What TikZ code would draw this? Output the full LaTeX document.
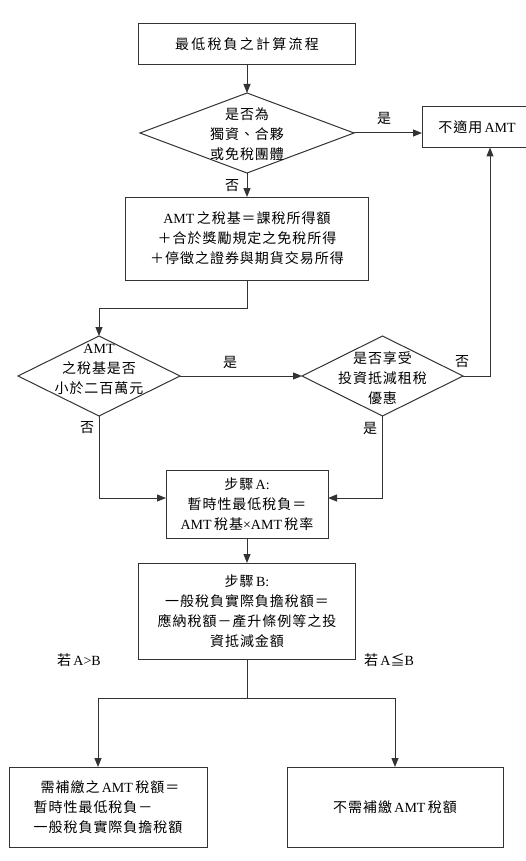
\documentclass[tikz,border=0pt]{standalone}
\usepackage{fontspec}
\setmainfont{Liberation Serif}
\newfontfamily\zh{Noto Sans CJK TC}[LetterSpace=7]
\newfontfamily\zht{Noto Sans CJK TC}[LetterSpace=16]
\usetikzlibrary{shapes.geometric,arrows.meta}
\begin{document}
\begin{tikzpicture}[x=1pt,y=-1pt,
  every node/.style={font=\fontsize{14}{20}\selectfont},
  box/.style={draw=black!80, line width=1pt, align=center, inner sep=0pt, outer sep=0pt},
  dia/.style={draw=black!80, line width=1pt, diamond, inner sep=0pt, outer sep=0pt},
  txt/.style={align=center, inner sep=0pt},
  lbl/.style={inner sep=0pt},
  conn/.style={draw=black!80, line width=1pt},
  arr/.style={conn, -{Triangle[width=7pt,length=9pt]}}]
\fill[white] (0,0) rectangle (525,861);
\useasboundingbox (0,0) rectangle (525,861);

\node[box, minimum width=217pt, minimum height=41pt] (title) at (247,44.5) {\zht 最低稅負之計算流程};

\node[dia, minimum width=214pt, minimum height=80pt] (d1) at (247,133) {};
\node[txt] (d1t) at (247,134) {\zh 是否為\\\zh 獨資、合夥\\\zh 或免稅團體};

\node[box, minimum width=110pt, minimum height=41pt, anchor=west] (na) at (422,127) {{\zh 不適用}\,AMT};

\node[box, minimum width=243pt, minimum height=83pt] (base) at (247,238.5) {AMT\,{\zh 之稅基＝課稅所得額}\\{\zh ＋合於獎勵規定之免稅所得}\\{\zh ＋停徵之證券與期貨交易所得}};

\node[dia, minimum width=162pt, minimum height=80pt] (d2) at (99,376) {};
\node[txt] (d2t) at (99,369) {AMT\\\zh 之稅基是否\\\zh 小於二百萬元};

\node[dia, minimum width=161pt, minimum height=80pt] (d3) at (382.5,376) {};
\node[txt] (d3t) at (382.5,378) {\zh 是否享受\\\zh 投資抵減租稅\\\zh 優惠};

\node[box, minimum width=162pt, minimum height=68pt] (sa) at (247,504) {{\zh 步驟}\,A:\\{\zh 暫時性最低稅負＝}\\AMT\,{\zh 稅基}×AMT\,{\zh 稅率}};

\node[box, minimum width=217pt, minimum height=96pt] (sb) at (247,611) {{\zh 步驟}\,B:\\{\zh 一般稅負實際負擔稅額＝}\\{\zh 應納稅額－產升條例等之投}\\{\zh 資抵減金額}};

\node[box, minimum width=198pt, minimum height=80pt, align=left] (bl) at (108,807) {\hspace{7pt}{\zh 需補繳之}\,AMT\,{\zh 稅額＝}\\{\zh 暫時性最低稅負－}\\{\zh 一般稅負實際負擔稅額}};

\node[box, minimum width=216pt, minimum height=80pt] (br) at (395,807) {{\zh 不需補繳}\,AMT\,{\zh 稅額}};

% connectors
\draw[arr] (title.south) -- (d1.north);
\draw[arr] (d1.east) -- (d1.east -| na.west);
\node[lbl] (l1) at (384,118) {\zh 是};
\draw[arr] (d1.south) -- (base.north);
\node[lbl] (l2) at (232,186) {\zh 否};
\draw[arr] (base.south) -- ++(0,28) -| (d2.north);
\draw[arr] (d2.east) -- (d3.west);
\node[lbl] (l3) at (230,362) {\zh 是};
\draw[arr] (d3.east) -| ([xshift=13pt]na.south);
\node[lbl] (l4) at (462,362) {\zh 否};
\draw[arr] (d2.south) |- ([yshift=6pt]sa.west);
\node[lbl] (l5) at (87,428) {\zh 否};
\draw[arr] (d3.south) |- ([yshift=6pt]sa.east);
\node[lbl] (l6) at (370,428) {\zh 是};
\draw[arr] (sa.south) -- (sb.north);
\draw[conn] (sb.south) -- ++(0,39) coordinate (split);
\draw[arr] (split) -| ([xshift=-10pt]bl.north);
\draw[arr] (split) -| (br.north);
\node[lbl] (l7) at (79,660) {{\zh 若}\,A>B};
\node[lbl] (l8) at (389,660) {{\zh 若}\,A{\zh ≦}B};
\end{tikzpicture}
\end{document}
